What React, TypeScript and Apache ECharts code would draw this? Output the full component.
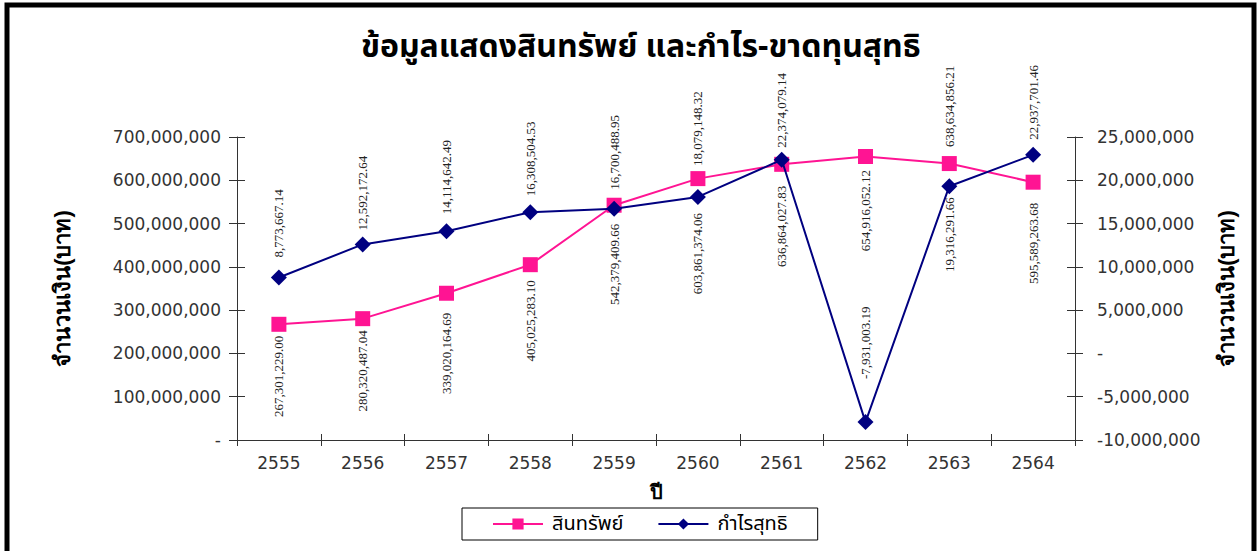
import React, { useEffect, useRef } from "react";
import * as echarts from "echarts";

const years = ["2555", "2556", "2557", "2558", "2559", "2560", "2561", "2562", "2563", "2564"];
const assets = [267301229.0, 280320487.04, 339020164.69, 405025283.1, 542379409.66, 603861374.06, 636864027.83, 654916052.12, 638634856.21, 595589263.68];
const profit = [8773667.14, 12592172.64, 14114642.49, 16308504.53, 16700488.95, 18079148.32, 22374079.14, -7931003.19, 19316291.66, 22937701.46];
const assetLabelText = ["267,301,229.00", "280,320,487.04", "339,020,164.69", "405,025,283.10", "542,379,409.66", "603,861,374.06", "636,864,027.83", "654,916,052.12", "638,634,856.21", "595,589,263.68"];
const profitLabelText = ["8,773,667.14", "12,592,172.64", "14,114,642.49", "16,308,504.53", "16,700,488.95", "18,079,148.32", "22,374,079.14", "-7,931,003.19", "19,316,291.66", "22,937,701.46"];

// label placement (style only)
const assetLabelAbove = [false, false, false, false, false, false, false, false, true, false];
const assetLabelDist = [4, 4, 12, 8, 11, 27, 14, 6, 9, 13];
const profitLabelAbove = [true, true, true, true, true, true, true, true, false, true];
const profitLabelDist = [12, 6, 9, 8, 11, 23, 4, 35, 3, 7];

const fmt = (v: number) => (v === 0 ? "-" : Math.round(v).toLocaleString("en-US"));

function labelCfg(above: boolean, dist: number, text: string) {
  return {
    show: true,
    position: above ? "top" : "bottom",
    distance: dist,
    rotate: 90,
    align: above ? "left" : "right",
    verticalAlign: "middle",
    formatter: () => text,
    fontFamily: "Liberation Serif",
    fontSize: 13,
    color: "#222",
  };
}

export default function App() {
  const ref = useRef<HTMLDivElement>(null);
  useEffect(() => {
    document.body.style.margin = "0";
    const chart = echarts.init(ref.current!, null, { renderer: "svg" });
    const axisFont = { fontFamily: "DejaVu Sans", fontSize: 17, color: "#333" };
    const lineStyle = { color: "#333", width: 1 };
    const option = {
      animation: false,
      backgroundColor: "#fff",
      title: {
        text: "ข้อมูลแสดงสินทรัพย์ และกำไร-ขาดทุนสุทธิ",
        left: 356,
        top: 26,
        textStyle: { fontSize: 32, fontWeight: "bold", color: "#000", fontFamily: "Noto Sans Thai, Noto Sans, sans-serif" },
      },
      legend: {
        bottom: 11,
        left: 462,
        data: ["สินทรัพย์", "กำไรสุทธิ"],
        itemWidth: 50,
        itemHeight: 14,
        itemGap: 34,
        borderColor: "#000",
        borderWidth: 1,
        padding: [6, 30, 6, 30],
        textStyle: { fontSize: 20, color: "#000", fontFamily: "Noto Sans Thai, Noto Sans, sans-serif", padding: [0, 0, 0, 4] },
      },
      grid: { left: 237, right: 183, top: 137, bottom: 111 },
      xAxis: [
        {
          type: "category",
          data: years,
          name: "ปี",
          nameLocation: "middle",
          nameGap: 42,
          nameTextStyle: { fontSize: 20, fontWeight: "bold", color: "#000" },
          axisLine: { onZero: false, lineStyle },
          axisTick: { show: true, length: 6, lineStyle },
          axisLabel: { ...axisFont, margin: 14 },
        },
        {
          type: "category",
          data: years,
          position: "bottom",
          axisLine: { show: false, onZero: false },
          axisTick: { show: true, inside: true, length: 6, lineStyle },
          axisLabel: { show: false },
        },
      ],
      yAxis: [
        {
          type: "value",
          min: 0,
          max: 700000000,
          interval: 100000000,
          position: "left",
          name: "จำนวนเงิน(บาท)",
          nameLocation: "middle",
          nameRotate: 90,
          nameGap: 164,
          nameTextStyle: { fontSize: 22, fontWeight: "bold", color: "#000" },
          axisLine: { show: true, lineStyle },
          axisTick: { show: true, length: 8, lineStyle },
          splitLine: { show: false },
          axisLabel: { ...axisFont, margin: 16, formatter: fmt },
        },
        {
          type: "value",
          min: -10000000,
          max: 25000000,
          interval: 5000000,
          position: "right",
          name: "จำนวนเงิน(บาท)",
          nameLocation: "middle",
          nameRotate: 90,
          nameGap: 140,
          nameTextStyle: { fontSize: 22, fontWeight: "bold", color: "#000" },
          axisLine: { show: true, lineStyle },
          axisTick: { show: true, length: 8, lineStyle },
          splitLine: { show: false },
          axisLabel: { ...axisFont, margin: 22, formatter: fmt },
        },
        {
          type: "value",
          min: 0,
          max: 700000000,
          interval: 100000000,
          position: "left",
          axisLine: { show: false },
          axisTick: { show: true, inside: true, length: 8, lineStyle },
          axisLabel: { show: false },
          splitLine: { show: false },
        },
        {
          type: "value",
          min: -10000000,
          max: 25000000,
          interval: 5000000,
          position: "right",
          axisLine: { show: false },
          axisTick: { show: true, inside: true, length: 8, lineStyle },
          axisLabel: { show: false },
          splitLine: { show: false },
        },
      ],
      graphic: [
        {
          type: "rect",
          shape: { x: 7, y: 5, width: 1247, height: 600 },
          style: { fill: "none", stroke: "#000", lineWidth: 5 },
          silent: true,
        },
      ],
      series: [
        {
          name: "สินทรัพย์",
          type: "line",
          yAxisIndex: 0,
          symbol: "rect",
          symbolSize: 15,
          itemStyle: { color: "#FF1493" },
          lineStyle: { color: "#FF1493", width: 2 },
          data: assets.map((v, i) => ({ value: v, label: labelCfg(assetLabelAbove[i], assetLabelDist[i], assetLabelText[i]) })),
          z: 3,
        },
        {
          name: "กำไรสุทธิ",
          type: "line",
          yAxisIndex: 1,
          symbol: "diamond",
          symbolSize: 16,
          itemStyle: { color: "#000080" },
          lineStyle: { color: "#000080", width: 2 },
          data: profit.map((v, i) => ({ value: v, label: labelCfg(profitLabelAbove[i], profitLabelDist[i], profitLabelText[i]) })),
          z: 4,
        },
      ],
    };
    chart.setOption(option as any);
    return () => chart.dispose();
  }, []);
  return <div ref={ref} style={{ width: 1258, height: 551, position: "absolute", left: 0, top: 0 }} />;
}
